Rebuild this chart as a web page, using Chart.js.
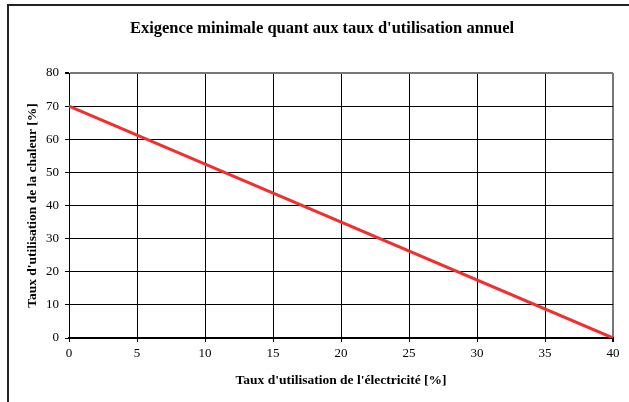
<!DOCTYPE html>
<html>
<head>
<meta charset="utf-8">
<script src="https://cdn.jsdelivr.net/npm/chart.js@4"></script>
<style>
body{margin:0;background:#fff;}
#wrap{position:relative;width:629px;height:402px;}
#frame{position:absolute;left:7px;top:4px;width:640px;height:420px;border-left:2px solid #222;border-top:2px solid #222;pointer-events:none;}
</style>
</head>
<body>
<div id="wrap">
<canvas id="chart" width="629" height="402"></canvas>
<div id="frame"></div>
</div>
<script>

// data
let elec=[0,40];
let chaleur=[70,0];

let titre="Exigence minimale quant aux taux d'utilisation annuel";
let titreX="Taux d'utilisation de l'électricité [%]";
let titreY="Taux d'utilisation de la chaleur [%]";

let points=elec.map((x,i)=>({x:x,y:chaleur[i]}));

let serif="'Liberation Serif','Times New Roman',serif";


// title centred on the (cropped) chart frame
let titrePlugin={
id:'titre',
afterDraw(chart){
let ctx=chart.ctx;
ctx.save();
ctx.font="bold 16.5px "+serif;
ctx.fillStyle="#000";
ctx.textAlign="center";
ctx.textBaseline="middle";
ctx.fillText(titre,322,29);
ctx.restore();
}
};


new Chart(

document.getElementById('chart'),

{

type:'scatter',

data:{

datasets:[{

data:points,

showLine:true,

borderColor:"#f03030",

backgroundColor:"#f03030",

borderWidth:3,

pointRadius:0

}]

},

options:{

responsive:false,

animation:false,

layout:{padding:{top:73,right:16,left:0,bottom:0}},

plugins:{legend:{display:false},tooltip:{enabled:false}},

scales:{

x:{

type:'linear',

min:0,max:40,

ticks:{stepSize:5,color:"#000",padding:4,font:{family:serif,size:13}},

grid:{color:(c)=>c.tick&&c.tick.value===40?"#777":"#000",lineWidth:(c)=>c.tick&&c.tick.value===40?2:1,tickLength:4,tickColor:"#000"},

border:{color:"#000",width:2},

title:{display:true,text:titreX,color:"#000",font:{family:serif,size:13.5,weight:'bold'},padding:{top:0,bottom:13}},

afterFit(s){s.height=64;}

},

y:{

min:0,max:80,

ticks:{stepSize:10,color:"#000",padding:6,font:{family:serif,size:13}},

grid:{color:(c)=>c.tick&&c.tick.value===80?"#777":"#000",lineWidth:(c)=>c.tick&&c.tick.value===80?2:1,tickLength:4,tickColor:"#000"},

border:{color:"#000",width:1},

title:{display:true,text:titreY,color:"#000",font:{family:serif,size:13.5,weight:'bold'},padding:{top:24,bottom:0}},

afterFit(s){s.width=69;}

}

}

},

plugins:[titrePlugin]

}

);

</script>
</body>
</html>
